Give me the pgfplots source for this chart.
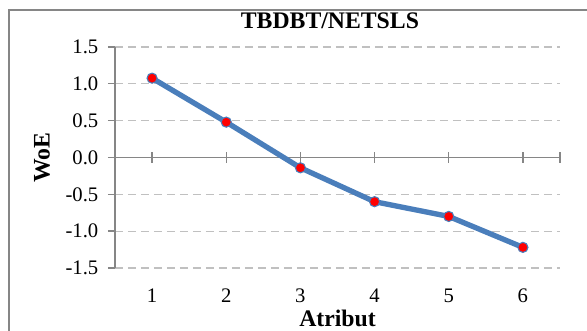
\documentclass[border=0pt]{standalone}
\usepackage{pgfplots}
\pgfplotsset{compat=1.18}
\usepackage{fontspec}
\setmainfont{Liberation Serif}
\definecolor{axgray}{RGB}{134,134,134}
\definecolor{gridgray}{RGB}{192,192,192}
\definecolor{lineblue}{RGB}{74,126,187}
\begin{document}
\begin{tikzpicture}
\begin{axis}[
  at={(86.25pt,47.25pt)}, anchor=south west,
  scale only axis, width=333.75pt, height=165.75pt,
  xmin=0.5, xmax=6.5, ymin=-1.5, ymax=1.5,
  axis lines*=left,
  x axis line style={draw=none},
  y axis line style={draw=axgray, line width=1pt},
  xtick={1,2,3,4,5,6}, xticklabels={1,2,3,4,5,6},
  ytick={-1.5,-1,-0.5,0,0.5,1,1.5},
  yticklabels={-1.5,-1.0,-0.5,0.0,0.5,1.0,1.5},
  x tick style={draw=none},
  y tick style={draw=axgray, line width=1pt},
  tick align=outside, major tick length=5.25pt,
  ytick pos=left,
  ymajorgrids,
  grid style={draw=gridgray, line width=0.9pt, dash pattern=on 6pt off 3.75pt},
  tick label style={font=\fontsize{15.5}{18}\selectfont},
  xticklabel style={inner sep=0pt, anchor=north, yshift=-10.25pt},
  yticklabel style={xshift=-3.75pt},
  title={\textbf{TBDBT/NETSLS}},
  title style={font=\fontsize{17.8}{20}\selectfont, at={(axis description cs:0.483,1)}, anchor=base, yshift=7.7pt},
  xlabel={\textbf{Atribut}},
  xlabel style={font=\fontsize{17.8}{20}\selectfont, inner sep=0pt, at={(axis description cs:0.5,0)}, anchor=base, yshift=-44.25pt},
  ylabel={\textbf{WoE}},
  ylabel style={font=\fontsize{17.8}{20}\selectfont, at={(axis description cs:0,0.5)}, anchor=center, yshift=54.75pt},
  clip=false,
]
\draw[axgray, line width=1pt] (axis cs:0.5,0) -- (axis cs:6.5,0);
\pgfplotsinvokeforeach{1,2,3,4,5,6,6.5}{\draw[axgray, line width=1pt] (axis cs:#1,-0.068) -- (axis cs:#1,0.068);}
\addplot[lineblue, line width=4pt, mark=*, mark size=3.8pt,
  mark options={fill=red, draw=lineblue, line width=0.8pt}]
  coordinates {(1,1.077) (2,0.48) (3,-0.14) (4,-0.60) (5,-0.80) (6,-1.22)};
\end{axis}
\draw[axgray, line width=1.2pt] (6.75pt,-10pt) -- (6.75pt,240.75pt) -- (460pt,240.75pt);
\pgfresetboundingbox
\useasboundingbox (0,0) rectangle (440.25pt,248.25pt);
\end{tikzpicture}
\end{document}
